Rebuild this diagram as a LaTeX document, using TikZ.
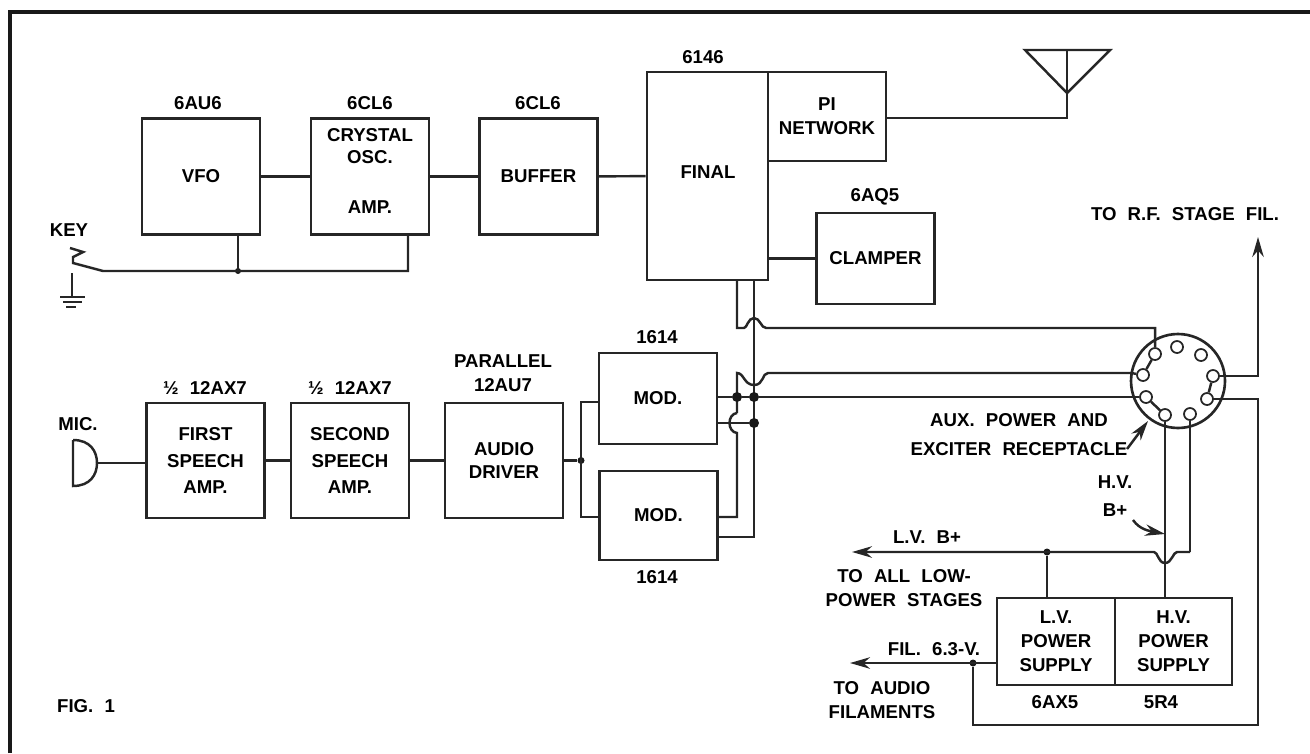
\documentclass[tikz,border=0pt]{standalone}
\usepackage{fontspec}
\setmainfont{Liberation Sans}
\usetikzlibrary{arrows.meta,positioning}
\tikzset{
  block/.style={rectangle, draw=black!85, line width=1.5pt, inner sep=0pt, align=center,
    minimum width=2.36cm, minimum height=2.32cm, font=\sffont},
  lbl/.style={inner sep=0pt, align=center, font=\sffont},
  hole/.style={circle, draw=black!85, line width=1pt, minimum size=0.24cm, inner sep=0pt, fill=white},
  wire/.style={draw=black!85, line width=1.4pt},
  feed/.style={wire, -{Stealth[length=4mm,width=2.3mm]}},
  tap/.style={circle, fill=black!90, inner sep=0pt, minimum size=0.2cm},
}
\newcommand{\sffont}{\bfseries\fontsize{10.6}{13.6}\selectfont\spaceskip=0.6em\relax}
\begin{document}
\begin{tikzpicture}[x=0.02cm, y=-0.02cm]
  \useasboundingbox (0,0) rectangle (1310,753);
  % frame
  \draw[black!90, line width=1.8pt] (10,753) -- (10,12) -- (1310,12);
  % r.f. chain
  \node[block] (vfo) at (201,176.5) {VFO};
  \node[block] (xtal) at (370,176.5) {};
  \node[block] (buffer) at (538.5,176.5) {BUFFER};
  \node[block, minimum width=2.42cm, minimum height=4.16cm] (final) at (707.5,176) {};
  \node[block, minimum height=1.78cm] (pinet) at (827,116.5) {PI\\NETWORK};
  \node[block, minimum height=1.82cm] (clamper) at (875.5,258.5) {CLAMPER};
  \node[lbl] at (370,146) {CRYSTAL\\[-0.04cm]OSC.};
  \node[lbl] at (370,207) {AMP.};
  \node[lbl] at (708,172) {FINAL};
  \node[lbl] at (198,103) {6AU6};
  \node[lbl] at (370,103) {6CL6};
  \node[lbl] at (538,103) {6CL6};
  \node[lbl] at (703,57) {6146};
  \node[lbl] at (875,197) {6AQ5};
  \draw[wire] (vfo) -- (xtal);
  \draw[wire] (xtal) -- (buffer);
  \draw[wire] (buffer) -- (final);
  % antenna
  \coordinate (ant) at (1067,118);
  \draw[wire] (pinet.east |- ant) -- (ant) -- (1067,50);
  \draw[wire] (1025,50) -- (1110,50) -- (1067,93) -- cycle;
  \coordinate (clampin) at (768,258.5);
  \draw[wire] (clampin) -- (clamper);
  % key
  \coordinate (keyj) at (238,271);
  \coordinate (keyr) at (408,271);
  \node[tap, minimum size=0.12cm] at (keyj) {};
  \draw[wire] (keyj |- vfo.south) -- (keyj);
  \draw[wire] (keyr |- xtal.south) -- (keyr) -- (103,271) -- (73,263) -- (73,257) -- (83,252) -- (70,248);
  \draw[wire] (72,273) -- (72,297);
  \draw[wire] (60,297) -- (85,297) (63,302) -- (82,302) (66,307) -- (76,307);
  \node[lbl] at (69,230) {KEY};
  % speech chain
  \node[block, minimum height=2.3cm] (first) at (205.5,460.5) {FIRST\\[0.06cm]SPEECH\\[0.06cm]AMP.};
  \node[block, minimum height=2.3cm] (second) at (350,460.5) {SECOND\\[0.06cm]SPEECH\\[0.06cm]AMP.};
  \node[block, minimum height=2.3cm] (driver) at (504,460.5) {AUDIO\\DRIVER};
  \node[block, minimum height=1.82cm] (modA) at (658,398.5) {MOD.};
  \node[block, minimum height=1.78cm] (modB) at (658.5,515.5) {MOD.};
  \node[lbl] at (205,388) {½ 12AX7};
  \node[lbl] at (350,388) {½ 12AX7};
  \node[lbl] at (503,373) {PARALLEL\\12AU7};
  \node[lbl] at (657,337) {1614};
  \node[lbl] at (657,577) {1614};
  \node[lbl] at (78,424) {MIC.};
  \coordinate (micback) at (73,440);
  \draw[wire] (micback) -- (73,486) .. controls (90,486) and (97,475) .. (97,463)
    .. controls (97,451) and (90,440) .. (micback);
  \draw[wire] (97,463) -- (first.west |- 0,463);
  \draw[wire] (first) -- (second);
  \draw[wire] (second) -- (driver);
  \node[tap, minimum size=0.14cm] (busj) at (581,460.5) {};
  \draw[wire] (driver) -- (busj);
  \draw[wire] (modA.west |- 0,402) -- (581,402) -- (581,517) -- (modB.west |- 0,517);
  % socket
  \node[circle, draw=black!85, line width=1.5pt, minimum size=1.88cm, inner sep=0pt] (socket) at (1178,381) {};
  \foreach \n/\x/\y in {a/1155/354, b/1177/347, c/1201/355, d/1213/376, e/1207/399, f/1190/414, g/1165/415, h/1146/397, i/1143/375}
    \node[hole] (pin\n) at (\x,\y) {};
  \draw[wire] (pina) -- (pini);
  \draw[wire] (pind) -- (pine);
  \draw[wire] (pinh) -- (ping);
  % modulator and final wiring
  \coordinate (busA) at (737,280);
  \coordinate (busB) at (754,280);
  \draw[wire] (busA) -- (737,328) -- (744,328) .. controls (747,328) and (748,318) .. (754,318)
    .. controls (760,318) and (761,328) .. (766,328) -- (1155,328) -- (pina);
  \draw[wire] (busB) -- (754,537) -- (modB.east |- 0,537);
  \draw[wire] (737,413) -- (737,373) .. controls (744,373) and (744,385) .. (754,385)
    .. controls (764,385) and (762,373) .. (768,373) -- (1131,373) -- (pini);
  \draw[wire] (737,413) .. controls (727,414) and (727,432) .. (737,433) -- (737,517) -- (modB.east |- 0,517);
  \node[tap] (tapA) at (737,397) {};
  \node[tap] (tapB) at (754,397) {};
  \node[tap] (tapC) at (754,423) {};
  \draw[wire] (modA.east |- tapA) -- (tapA) -- (tapB) -- (1132,397) -- (pinh);
  \draw[wire] (modA.east |- tapC) -- (tapC);
  % power supply
  \node[block, minimum height=1.74cm] (lvps) at (1056,641.5) {L.V.\\POWER\\SUPPLY};
  \node[block, minimum width=2.34cm, minimum height=1.74cm] (hvps) at (1173.5,641.5) {H.V.\\POWER\\SUPPLY};
  \node[lbl] at (1055,702) {6AX5};
  \node[lbl] at (1161,702) {5R4};
  \coordinate (lvarrow) at (852,552);
  \coordinate (filarrow) at (850,663);
  \node[tap, minimum size=0.14cm] (lvj) at (1047,552) {};
  \node[tap, minimum size=0.14cm] (filj) at (973,663) {};
  \draw[feed] (1190,552) -- (1177,552) .. controls (1173,552) and (1172,563) .. (1165,563)
    .. controls (1158,563) and (1158,552) .. (1154,552) -- (lvarrow);
  \draw[wire] (pinf) -- (1190,552);
  \draw[wire] (ping) -- (hvps.north -| ping);
  \draw[wire] (lvj) -- (lvj |- lvps.north);
  \draw[feed] (lvps.west |- filarrow) -- (filarrow);
  \draw[wire] (pine) -- (1258,399) -- (1258,725) -- (973,725) -- (filj);
  \coordinate (rfarrow) at (1258,237);
  \draw[feed] (pind) -- (1258,376) -- (rfarrow);
  \node[lbl] at (1185,214) {TO R.F. STAGE FIL.};
  % pointers
  \coordinate (auxtail) at (1127,449);
  \draw[feed] (auxtail) -- (1148,421);
  \coordinate (hvtail) at (1133,520);
  \draw[feed] (hvtail) .. controls (1140,530) and (1150,531) .. (1165,534);
  \node[lbl] at (1019,435) {AUX. POWER AND\\[0.1cm]EXCITER RECEPTACLE};
  \node[lbl] at (1115,496) {H.V.\\[0.08cm]B+};
  \node[lbl] at (927,537) {L.V. B+};
  \node[lbl] at (904,588) {TO ALL LOW-\\POWER STAGES};
  \node[lbl] at (934,649) {FIL. 6.3-V.};
  \node[lbl] at (882,700) {TO AUDIO\\FILAMENTS};
  \node[lbl] at (86,706) {FIG. 1};
\end{tikzpicture}
\end{document}
